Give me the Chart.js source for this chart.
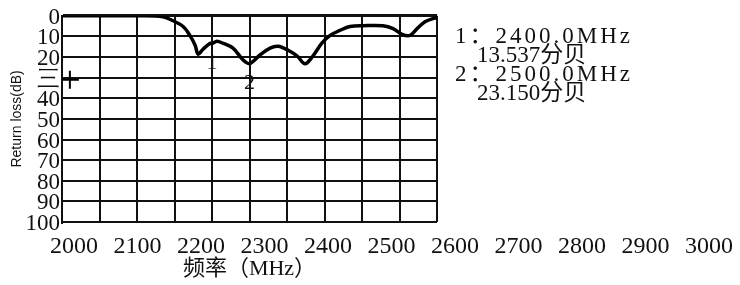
<!DOCTYPE html>
<html>
<head>
<meta charset="utf-8">
<script src="https://cdn.jsdelivr.net/npm/chart.js@4.4.1/dist/chart.umd.min.js"></script>
<style>
  html, body { margin: 0; padding: 0; background: #fff; }
</style>
</head>
<body>
<canvas id="chartReturnLoss" width="740" height="285"></canvas>
<script>
// data
var freqs      = [2000, 2216, 2269, 2296, 2323, 2341, 2355, 2363, 2376, 2395, 2400, 2413, 2429, 2456, 2483, 2500,
                  2528, 2555, 2576, 2603, 2627, 2648, 2669, 2693, 2715, 2741, 2768, 2803, 2856, 2883, 2907, 2928,
                  2947, 2968, 2989, 3000]
var returnLoss = [0, 0, 0.5, 2.4, 5.2, 9.5, 14.3, 18.6, 16.2, 13.3, 13.5, 12.4, 13.3, 15.7, 21.4, 23.15,
                  19, 15.7, 14.8, 16.7, 19.5, 23.3, 19.5, 13.3, 9.5, 7.1, 5.2, 4.8, 4.8, 6.2, 9, 9.5,
                  6.2, 2.9, 1.4, 1]
var xTickLabels = [2000, 2100, 2200, 2300, 2400, 2500, 2600, 2700, 2800, 2900, 3000]
var yTickValues = [0, 10, 20, 30, 40, 50, 60, 70, 80, 90, 100]
var yTickText   = ["0", "10", "20", "三", "40", "50", "60", "70", "80", "90", "100"]
var markerFreqs = [2400, 2500]
var markerNames = ["1", "2"]
var markerLines = ["1：2400.0MHz", "13.537分贝", "2：2500.0MHz", "23.150分贝"]
var cursorMark  = [{ x: 2021, y: 31 }]

var serif = "'Liberation Serif', 'Times New Roman', serif"
var cjk = "'Liberation Serif', 'Noto Sans CJK SC', serif"

// text next to the grid and the marker numbers under the curve
var textPlugin = {
    id: "markerText",
    afterDatasetsDraw: function (chart) {
        var ctx = chart.ctx
        var xs = chart.scales.x
        var ys = chart.scales.y
        ctx.save()
        ctx.fillStyle = "#111"
        ctx.font = "22px " + serif
        ctx.textAlign = "center"
        ctx.textBaseline = "middle"
        for (var i = 0; i < markerFreqs.length; i++) {
            var k = freqs.indexOf(markerFreqs[i])
            ctx.fillText(markerNames[i], xs.getPixelForValue(markerFreqs[i]), ys.getPixelForValue(returnLoss[k]) + 20)
        }
        ctx.textAlign = "left"
        ctx.font = "23px " + cjk
        var left = chart.chartArea.right + 18
        var top = chart.chartArea.top + 21
        for (var j = 0; j < markerLines.length; j++) {
            var indent = (j % 2 == 1) ? 22 : 0
            ctx.letterSpacing = (j % 2 == 0) ? "3px" : "0px"
            ctx.fillText(markerLines[j], left + indent, top + j * 19)
        }
        ctx.restore()
    }
}

var ctx = document.getElementById("chartReturnLoss")

new Chart(ctx, {
    type: "line",
    data: {
        datasets: [{
            data: freqs.map(function (f, i) { return { x: f, y: returnLoss[i] } }),
            borderColor: "#000",
            borderWidth: 3.5,
            pointRadius: 0,
            tension: 0.35,
            xAxisID: "x",
            yAxisID: "y"
        }, {
            type: "scatter",
            data: cursorMark,
            pointStyle: "cross",
            pointRadius: 9,
            borderColor: "#000",
            borderWidth: 2,
            xAxisID: "x",
            yAxisID: "y"
        }]
    },
    plugins: [textPlugin],
    options: {
        responsive: false,
        animation: false,
        devicePixelRatio: 1,
        layout: { padding: { left: 0, top: 12, right: 303, bottom: 0 } },
        plugins: { legend: { display: false }, tooltip: { enabled: false } },
        scales: {
            x: {
                type: "linear",
                position: "bottom",
                min: 2000,
                max: 3000,
                afterBuildTicks: function (s) { s.ticks = xTickLabels.map(function (v) { return { value: v } }) },
                afterFit: function (s) { s.height = 0 },
                grid: { color: "#111", lineWidth: 2, drawTicks: false },
                border: { display: false },
                ticks: { display: false, autoSkip: false }
            },
            xl: {
                type: "linear",
                position: "bottom",
                min: 1981.1,
                max: 2571.65,
                afterBuildTicks: function (s) { s.ticks = xTickLabels.map(function (v) { return { value: v } }) },
                afterFit: function (s) { s.height = 63 },
                grid: { display: false },
                border: { display: false },
                ticks: {
                    autoSkip: false,
                    maxRotation: 0,
                    minRotation: 0,
                    padding: 2,
                    color: "#111",
                    font: { family: serif, size: 24 },
                    callback: function (v) { return String(v) }
                },
                title: {
                    display: true,
                    text: "频率（MHz）",
                    color: "#111",
                    font: { family: cjk, size: 22 },
                    padding: { top: 0, bottom: 3 }
                }
            },
            y: {
                type: "linear",
                reverse: true,
                min: 0,
                max: 100,
                afterBuildTicks: function (s) { s.ticks = yTickValues.map(function (v) { return { value: v } }) },
                afterFit: function (s) { s.width = 62 },
                grid: {
                    color: "#111",
                    lineWidth: function (c) { return c.tick && c.tick.value == 0 ? 3 : 2 },
                    drawTicks: false
                },
                border: { color: "#111", width: 2 },
                ticks: {
                    autoSkip: false,
                    padding: 2,
                    labelOffset: 2,
                    color: "#111",
                    font: { family: serif, size: 23 },
                    callback: function (v, i) { return yTickText[i] }
                },
                title: {
                    display: true,
                    text: "Return loss(dB)",
                    color: "#111",
                    font: { family: "'Liberation Sans', Arial, sans-serif", size: 14 },
                    padding: { top: 9, bottom: 0 }
                }
            }
        }
    }
})
</script>
</body>
</html>
